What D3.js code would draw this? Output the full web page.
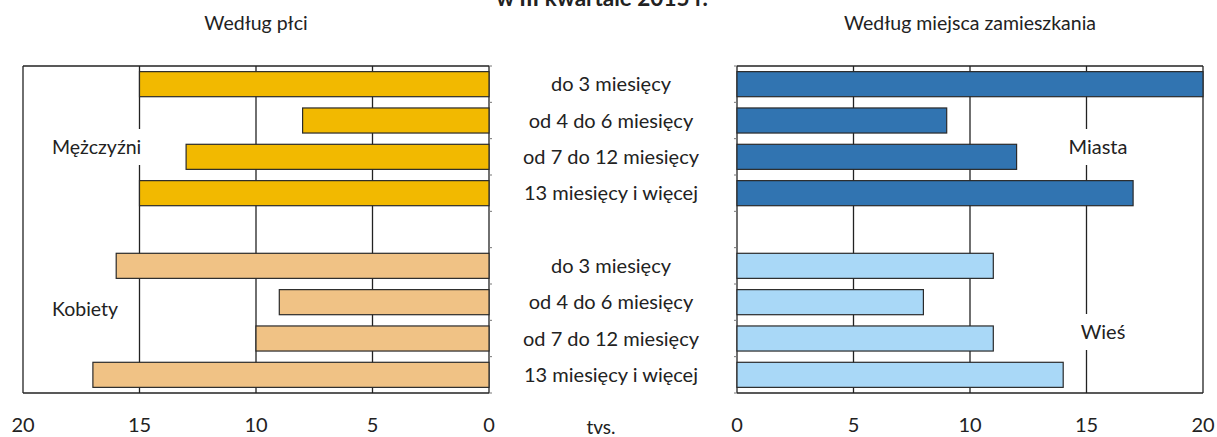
<!DOCTYPE html>
<html>
<head>
<meta charset="utf-8">
<script src="https://cdn.jsdelivr.net/npm/d3@7/dist/d3.min.js"></script>
<style>
  html, body { margin: 0; padding: 0; background: #fff; }
  svg { display: block; }
  text { font-family: Lato, "Open Sans", sans-serif; fill: #222; }
</style>
</head>
<body>
<svg id="chart" width="1217" height="437"></svg>
<script>
// ---- data ----
const categories = ["do 3 miesięcy", "od 4 do 6 miesięcy", "od 7 do 12 miesięcy", "13 miesięcy i więcej"];
const men     = [15, 8, 13, 15];
const women   = [16, 9, 10, 17];
const city    = [20, 9, 12, 17];
const village = [11, 8, 11, 14];
const tickValues = [0, 5, 10, 15, 20];
const titleText = "w III kwartale 2015 r.";
const subtitleLeft = "Według płci";
const subtitleRight = "Według miejsca zamieszkania";
const groupLeft = ["Mężczyźni", "Kobiety"];
const groupRight = ["Miasta", "Wieś"];
const unitLabel = "tvs.";

const colors = { men: "#F2B900", women: "#F0C285", city: "#3174B1", village: "#A9D8F7" };

// ---- layout ----
const svg = d3.select("#chart");
const plotTop = 66, plotBottom = 393;

const rows = [];
categories.forEach((c, i) => rows.push({ key: "a" + i, cat: c, g: 0, i }));
rows.push({ key: "gap" });
categories.forEach((c, i) => rows.push({ key: "b" + i, cat: c, g: 1, i }));

const y = d3.scaleBand().domain(rows.map(r => r.key)).range([plotTop, plotBottom])
  .paddingInner(0.31).paddingOuter(0.155);

const xL = d3.scaleLinear().domain([20, 0]).range([23, 489]);
const xR = d3.scaleLinear().domain([0, 20]).range([737, 1203]);

function panel(x, leftData, rightData, c0, c1, side) {
  const g = svg.append("g");
  g.selectAll("line.grid").data(tickValues).enter().append("line")
    .attr("x1", d => x(d)).attr("x2", d => x(d))
    .attr("y1", plotTop).attr("y2", plotBottom)
    .attr("stroke", "#222").attr("stroke-width", 1.3);
  const [r0, r1] = x.range();
  const xa = Math.min(r0, r1), xb = Math.max(r0, r1);
  [plotTop, plotBottom].forEach(yy => g.append("line")
    .attr("x1", xa).attr("x2", xb).attr("y1", yy).attr("y2", yy)
    .attr("stroke", "#222").attr("stroke-width", 1.3));
  const x0 = x(0);
  const dir = side === "left" ? 1 : -1;
  const bounds = rows.map(r => y(r.key) - y.step() * y.paddingInner() / 2).concat([plotBottom]);
  g.selectAll("line.ct").data(bounds).enter().append("line")
    .attr("x1", x0).attr("x2", x0 + dir * 3)
    .attr("y1", d => d).attr("y2", d => d)
    .attr("stroke", "#777").attr("stroke-width", 1);
  const barRows = rows.filter(r => r.key !== "gap");
  const val = r => r.g === 0 ? leftData[r.i] : rightData[r.i];
  g.selectAll("rect.bar").data(barRows).enter().append("rect")
    .attr("x", r => Math.min(x(0), x(val(r))))
    .attr("width", r => Math.abs(x(val(r)) - x(0)))
    .attr("y", r => y(r.key))
    .attr("height", y.bandwidth())
    .attr("fill", r => r.g === 0 ? c0 : c1)
    .attr("stroke", "#2a2a2a").attr("stroke-width", 1.2);
  g.selectAll("text.tick").data(tickValues).enter().append("text")
    .attr("x", d => x(d)).attr("y", 432)
    .attr("text-anchor", "middle")
    .style("font-size", "20px")
    .text(d => d);
}

panel(xL, men, women, colors.men, colors.women, "left");
panel(xR, city, village, colors.city, colors.village, "right");

svg.selectAll("text.cat").data(rows.filter(r => r.key !== "gap")).enter().append("text")
  .attr("x", 611).attr("y", r => y(r.key) + y.bandwidth() / 2)
  .attr("dy", "0.35em").attr("text-anchor", "middle")
  .style("font-size", "20px")
  .text(r => r.cat);

function groupLabel(text, xc, yc, anchor, size) {
  const t = svg.append("text").attr("x", xc).attr("y", yc).attr("dy", "0.35em")
    .attr("text-anchor", anchor).style("font-size", size + "px").text(text);
  const bb = t.node().getBBox();
  svg.insert("rect", function () { return t.node(); })
    .attr("x", bb.x - 3).attr("y", yc - 18).attr("width", bb.width + 6).attr("height", 36)
    .attr("fill", "#fff");
}
groupLabel(groupLeft[0], 52, 147, "start", 19.5);
groupLabel(groupLeft[1], 52, 309, "start", 19.5);
groupLabel(groupRight[0], 1098, 147, "middle", 20);
groupLabel(groupRight[1], 1103, 332, "middle", 20);

svg.append("text").attr("x", 256).attr("y", 30).attr("text-anchor", "middle")
  .style("font-size", "19.5px").text(subtitleLeft);
svg.append("text").attr("x", 970).attr("y", 30).attr("text-anchor", "middle")
  .style("font-size", "19.5px").text(subtitleRight);

svg.append("text").attr("x", 602).attr("y", 6).attr("text-anchor", "middle")
  .style("font-size", "22.5px").style("font-weight", "bold").text(titleText);

svg.append("text").attr("x", 601).attr("y", 434).attr("text-anchor", "middle")
  .style("font-size", "19px").text(unitLabel);
</script>
</body>
</html>
